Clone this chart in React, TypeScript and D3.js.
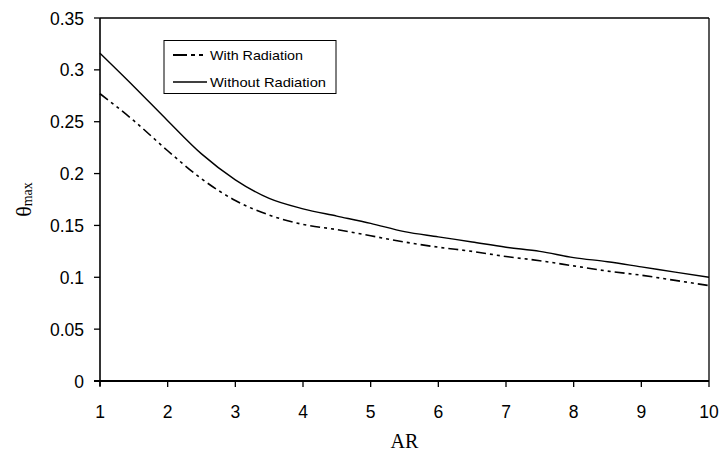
import React from "react";
import * as d3 from "d3";

const arValues = [1, 1.5, 2, 2.5, 3, 3.5, 4, 4.5, 5, 5.5, 6, 6.5, 7, 7.5, 8, 8.5, 9, 9.5, 10];
const withRadiation = [0.277, 0.251, 0.222, 0.195, 0.174, 0.16, 0.151, 0.146, 0.14, 0.134, 0.129, 0.125, 0.12, 0.116, 0.111, 0.106, 0.102, 0.097, 0.092];
const withoutRadiation = [0.316, 0.284, 0.251, 0.219, 0.194, 0.176, 0.166, 0.159, 0.152, 0.144, 0.139, 0.134, 0.129, 0.125, 0.119, 0.115, 0.11, 0.105, 0.1];
const xTicks = [1, 2, 3, 4, 5, 6, 7, 8, 9, 10];
const yTicks = [0, 0.05, 0.1, 0.15, 0.2, 0.25, 0.3, 0.35];
const seriesNames = ["With Radiation", "Without Radiation"];

const W = 720;
const H = 454;
const left = 100;
const right = 709;
const top = 18;
const bottom = 381;

export default function App() {
  const x = d3.scaleLinear().domain([1, 10]).range([left, right]);
  const y = d3.scaleLinear().domain([0, 0.35]).range([bottom, top]);
  const line = d3
    .line<number>()
    .x((_, i) => x(arValues[i]))
    .y((d) => y(d))
    .curve(d3.curveMonotoneX);

  const dash = "10,4,3,4,3,4";
  const sans = "'Liberation Sans', Arial, sans-serif";
  const serif = "'Liberation Serif', 'Times New Roman', serif";

  return (
    <svg
      width={W}
      height={H}
      style={{ position: "absolute", left: 0, top: 0, background: "#fff" }}
    >
      <rect x={0} y={0} width={W} height={H} fill="#fff" />
      <path d={line(withoutRadiation) || ""} fill="none" stroke="#000" strokeWidth={1.4} />
      <path
        d={line(withRadiation) || ""}
        fill="none"
        stroke="#000"
        strokeWidth={1.6}
        strokeDasharray={dash}
      />
      <line x1={left} x2={right} y1={top} y2={top} stroke="#000" strokeWidth={1.3} />
      <line x1={right} x2={right} y1={top} y2={bottom} stroke="#000" strokeWidth={1.3} />
      <line x1={left} x2={left} y1={top} y2={bottom + 5} stroke="#000" strokeWidth={1.6} />
      <line x1={left - 6} x2={right} y1={bottom} y2={bottom} stroke="#000" strokeWidth={2} />
      {yTicks.map((t) => (
        <g key={"y" + t}>
          <line x1={left - 6} x2={left} y1={y(t)} y2={y(t)} stroke="#000" strokeWidth={1.3} />
          <text
            x={84}
            y={y(t) + 6.5}
            textAnchor="end"
            fontFamily={sans}
            fontSize={17.5}
            fill="#000"
          >
            {t === 0 ? "0" : String(t)}
          </text>
        </g>
      ))}
      {xTicks.map((t) => (
        <g key={"x" + t}>
          <line x1={x(t)} x2={x(t)} y1={bottom} y2={bottom + 6} stroke="#000" strokeWidth={1.3} />
          <text
            x={x(t)}
            y={418}
            textAnchor="middle"
            fontFamily={sans}
            fontSize={17.5}
            fill="#000"
          >
            {t}
          </text>
        </g>
      ))}
      <text x={(left + right) / 2} y={448} textAnchor="middle" fontFamily={serif} fontSize={20} fill="#000">
        AR
      </text>
      <text
        transform={`translate(31, ${(top + bottom) / 2}) rotate(-90)`}
        textAnchor="middle"
        fontFamily={serif}
        fontSize={22}
        fill="#000"
      >
        θ<tspan fontSize={14} dy={1}>max</tspan>
      </text>
      <rect x={164} y={40.5} width={172} height={53} fill="#fff" stroke="#000" strokeWidth={1} />
      <line x1={173} x2={207} y1={55} y2={55} stroke="#000" strokeWidth={2} strokeDasharray="14,4,4,4,4,4" />
      <text x={210} y={59.5} fontFamily={sans} fontSize={13} fill="#000" textLength={93} lengthAdjust="spacingAndGlyphs">
        {seriesNames[0]}
      </text>
      <line x1={173} x2={207} y1={82} y2={82} stroke="#000" strokeWidth={1.4} />
      <text x={210} y={86.5} fontFamily={sans} fontSize={13} fill="#000" textLength={116} lengthAdjust="spacingAndGlyphs">
        {seriesNames[1]}
      </text>
    </svg>
  );
}
